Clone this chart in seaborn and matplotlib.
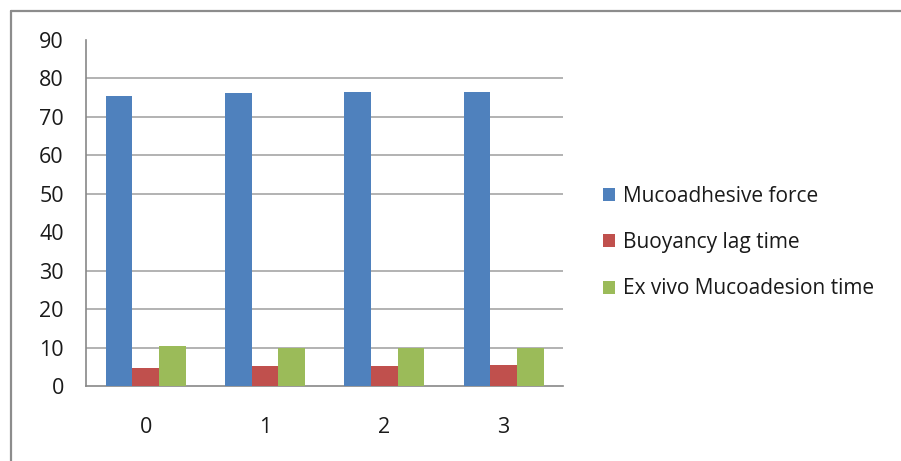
import matplotlib
matplotlib.use("Agg")
import matplotlib.pyplot as plt
from matplotlib.lines import Line2D
import seaborn as sns
import pandas as pd
import numpy as np

# Data
categories = ["0", "1", "2", "3"]
series_names = ["Mucoadhesive force", "Buoyancy lag time", "Ex vivo Mucoadesion time"]
mucoadhesive_force = [75.5, 76.1, 76.5, 76.5]
buoyancy_lag_time = [4.7, 5.1, 5.1, 5.4]
ex_vivo_time = [10.3, 10.0, 10.0, 10.0]
y_ticks = [0, 10, 20, 30, 40, 50, 60, 70, 80, 90]

colors = ["#4F81BD", "#C0504D", "#9BBB59"]

rows = []
for name, vals in zip(series_names, [mucoadhesive_force, buoyancy_lag_time, ex_vivo_time]):
    for c, v in zip(categories, vals):
        rows.append({"Formulation": c, "Series": name, "Value": v})
df = pd.DataFrame(rows)

sns.set_style("white")
plt.rcParams["font.family"] = ["Open Sans", "DejaVu Sans"]

fig = plt.figure(figsize=(9.01, 4.61), dpi=100)
ax = fig.add_axes([86 / 901, 1 - 386 / 461, 477.3 / 901, 346 / 461])

sns.barplot(data=df, x="Formulation", y="Value", hue="Series", order=categories,
            hue_order=series_names, palette=colors, width=0.67, saturation=1,
            edgecolor="none", linewidth=0, ax=ax, zorder=3)

ax.set_xlim(-0.5, len(categories) - 0.5)
ax.set_ylim(0, 90)
ax.set_yticks(y_ticks)
ax.set_yticklabels([str(t) for t in y_ticks])
ax.set_xlabel("")
ax.set_ylabel("")

grid_color = "#A6A6A6"
axis_color = "#878787"
ax.grid(axis="y", color=grid_color, linewidth=1.2, zorder=0)
for t, gl in zip(y_ticks, ax.get_ygridlines()):
    if t in (0, 40, 90):
        gl.set_visible(False)
ax.set_axisbelow(True)

for side in ("top", "right"):
    ax.spines[side].set_visible(False)
for side in ("left", "bottom"):
    ax.spines[side].set_color(axis_color)
    ax.spines[side].set_linewidth(1.2)

# Category boundary ticks on x, labels centred under groups
ax.set_xticks(np.arange(len(categories)))
ax.set_xticks(np.arange(len(categories) + 1) - 0.5, minor=True)
ax.tick_params(axis="x", which="major", length=0, pad=22, labelsize=15.5, labelcolor="#1a1a1a")
ax.tick_params(axis="x", which="minor", length=6, width=1.2, color=axis_color, direction="out")
ax.tick_params(axis="y", length=6, width=1.2, color=axis_color, pad=10, labelsize=15.5,
               labelcolor="#1a1a1a", direction="out")

# Legend to the right of the plot
handles, labels = ax.get_legend_handles_labels()
ax.legend_.remove()
fig.legend(handles, labels, loc="center left", bbox_to_anchor=(584 / 901, 0.474),
           frameon=False, fontsize=15, labelspacing=1.22, handlelength=0.58,
           handleheight=0.58, handletextpad=0.4, labelcolor="#1a1a1a")

# Chart frame lines (left and top)
fig.add_artist(Line2D([10.5 / 901, 10.5 / 901], [0, 1 - 11.5 / 461], transform=fig.transFigure,
                      color="#8C8C8C", linewidth=1.6))
fig.add_artist(Line2D([10.5 / 901, 1], [1 - 11.5 / 461, 1 - 11.5 / 461], transform=fig.transFigure,
                      color="#8C8C8C", linewidth=1.6))

fig.savefig("out.png", dpi=100)
